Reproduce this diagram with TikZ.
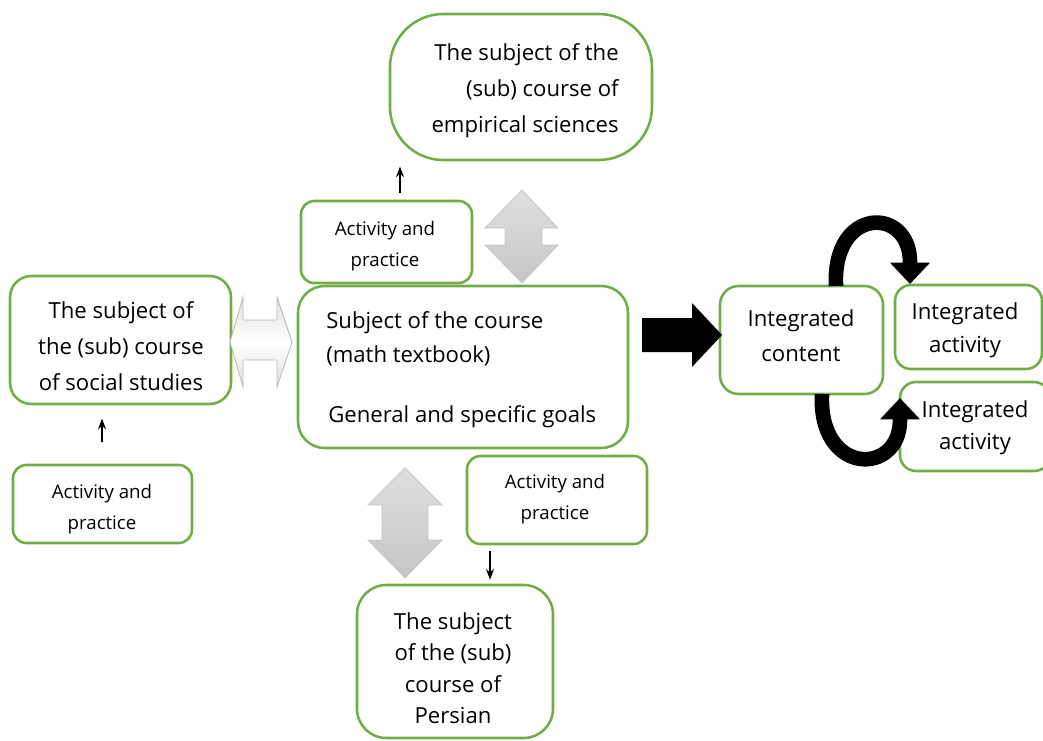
\documentclass[tikz,border=0pt]{standalone}
\usepackage{fontspec}
\setmainfont{Open Sans}
\usetikzlibrary{fit,arrows.meta}
\definecolor{grn}{RGB}{112,173,71}
\tikzset{
  box/.style={draw=grn, line width=1.9pt, fill=white, inner sep=0pt},
  bigtxt/.style={inner sep=0pt, font=\fontsize{16.6pt}{27pt}\selectfont},
  smtxt/.style={inner sep=0pt, font=\fontsize{14pt}{23.25pt}\selectfont, align=center},
  thin/.style={line width=0.9pt, -{Stealth[length=8pt,width=6pt]}},
  grayarr/.style={draw=gray!45, line width=0.6pt, top color=gray!25, bottom color=gray!45},
  lightarr/.style={draw=gray!55, line width=0.6pt, top color=gray!25, bottom color=gray!25, middle color=white},
  curv/.style={line width=11pt, -{Triangle[length=16pt,width=29pt]}},
}
\begin{document}
\begin{tikzpicture}[x=0.75pt,y=-0.75pt]
\useasboundingbox (0,0) rectangle (1043,740);
% boxes
\node[box, rounded corners=40pt, fit={(390,14)(652,160)}] (emp) {};
\node[box, rounded corners=10pt, fit={(301,201)(472,283)}] (act1) {};
\node[box, rounded corners=16pt, fit={(10,276)(231,404)}] (soc) {};
\node[box, rounded corners=20pt, fit={(298,286)(628,448)}] (main) {};
\node[box, rounded corners=10pt, fit={(13,465)(192,543)}] (act2) {};
\node[box, rounded corners=10pt, fit={(467,456)(647,544)}] (act3) {};
\node[box, rounded corners=22pt, fit={(357,585)(553,738)}] (per) {};
\node[box, rounded corners=14pt, fit={(720,286)(883,394)}] (ic) {};
\node[box, rounded corners=12pt, fit={(895,285)(1042,369)}] (ia1) {};
\node[box, rounded corners=12pt, fit={(900,382)(1050,471)}] (ia2) {};
% curved arrows
\draw[curv] (836,286) .. controls (832,206) and (910,206) .. (910,262) -- (910,284);
\draw[curv] (822,394) .. controls (818,476) and (900,476) .. (900,420) -- (900,398);
% texts
\node[bigtxt, align=right, anchor=east] (empT) at (619,91) {The subject of the\\(sub) course of\\empirical sciences};
\node[smtxt] (act1T) at (385,246) {Activity and\\practice};
\node[bigtxt, align=center] (socT) at (121,346) {The subject of\\the (sub) course\\of social studies};
\node[bigtxt, align=left, anchor=west, font=\fontsize{16.6pt}{25.5pt}\selectfont] (mainT) at (326,339) {Subject of the course\\(math textbook)};
\node[bigtxt, anchor=west] (goalT) at (328,417) {General and specific goals};
\node[smtxt] (act2T) at (102,509) {Activity and\\practice};
\node[smtxt] (act3T) at (555,499) {Activity and\\practice};
\node[bigtxt, align=center, font=\fontsize{16.6pt}{23.6pt}\selectfont] (perT) at (453,668) {The subject\\of the (sub)\\course of\\Persian};
\node[bigtxt, align=center, font=\fontsize{16.6pt}{26.2pt}\selectfont] (icT) at (801,336) {Integrated\\content};
\node[bigtxt, align=center, font=\fontsize{16.6pt}{24.75pt}\selectfont] (ia1T) at (965,330) {Integrated\\activity};
\node[bigtxt, align=center, font=\fontsize{16.6pt}{24pt}\selectfont] (ia2T) at (975,428) {Integrated\\activity};
% thin arrows
\draw[thin, shorten <=5pt, shorten >=4pt] (act1.north -| 400,0) -- (emp.south -| 400,0);
\draw[thin, shorten <=16pt, shorten >=10pt] (act2.north -| 102,0) -- (soc.south -| 102,0);
\draw[thin, shorten <=4pt, shorten >=3pt] (act3.south -| 490,0) -- (per.north -| 490,0);
% gray double arrows
\path[grayarr] (522,190) -- (558,228) -- (542,228) -- (542,245) -- (558,245) -- (522,283) -- (485,245) -- (505,245) -- (505,228) -- (485,228) -- cycle;
\path[grayarr] (405,468) -- (442,505) -- (428,505) -- (428,540) -- (442,540) -- (405,578) -- (368,540) -- (382,540) -- (382,505) -- (368,505) -- cycle;
\path[lightarr] (230,342) -- (243,297) -- (243,320) -- (277,320) -- (277,297) -- (292,342) -- (277,387) -- (277,360) -- (243,360) -- (243,387) -- cycle;
% black arrow
\fill[black] (642,318) -- (692,318) -- (692,303) -- (722,335) -- (692,367) -- (692,352) -- (642,352) -- cycle;
\end{tikzpicture}
\end{document}
